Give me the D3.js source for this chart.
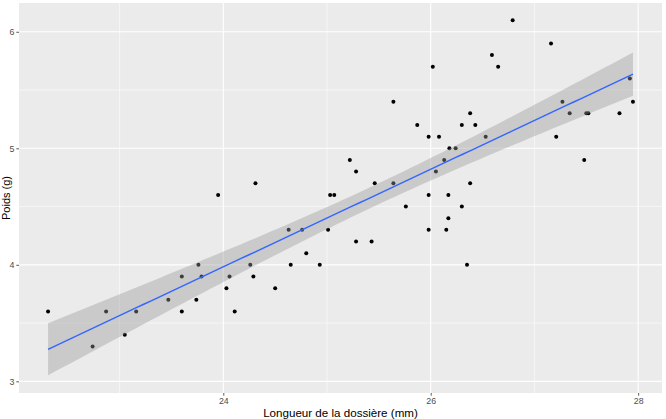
<!DOCTYPE html>
<html>
<head>
<meta charset="utf-8">
<script src="https://cdn.jsdelivr.net/npm/d3@7"></script>
<style>
  html, body { margin: 0; padding: 0; background: #ffffff; }
  svg { display: block; }
  text { font-family: "Liberation Sans", Arial, sans-serif; }
</style>
</head>
<body>
<div id="chart"></div>
<script>
// Carapace length (mm)
const longueur = [22.31,22.74,22.87,23.05,23.16,23.47,23.60,23.60,23.74,23.76,23.79,23.95,24.03,24.06,24.11,24.26,24.29,24.31,24.50,24.63,24.65,24.76,24.80,24.93,25.01,25.03,25.07,25.22,25.28,25.28,25.43,25.46,25.64,25.64,25.76,25.87,25.98,25.98,25.98,26.02,26.05,26.08,26.13,26.15,26.17,26.17,26.18,26.24,26.30,26.30,26.35,26.38,26.38,26.43,26.53,26.59,26.65,26.79,27.16,27.21,27.27,27.34,27.48,27.50,27.52,27.82,27.92,27.95];
// Weight (g)
const poids = [3.6,3.3,3.6,3.4,3.6,3.7,3.9,3.6,3.7,4.0,3.9,4.6,3.8,3.9,3.6,4.0,3.9,4.7,3.8,4.3,4.0,4.3,4.1,4.0,4.3,4.6,4.6,4.9,4.8,4.2,4.2,4.7,5.4,4.7,4.5,5.2,5.1,4.6,4.3,5.7,4.8,5.1,4.9,4.3,4.6,4.4,5.0,5.0,5.2,4.5,4.0,5.3,4.7,5.2,5.1,5.8,5.7,6.1,5.9,5.1,5.4,5.3,4.9,5.3,5.3,5.3,5.6,5.4];

const xMajor = [24, 26, 28];
const xMinor = [23, 25, 27];
const yMajor = [3, 4, 5, 6];
const yMinor = [3.5, 4.5, 5.5];
const xTitle = "Longueur de la dossière (mm)";
const yTitle = "Poids (g)";

const W = 666, H = 419;
const panel = { left: 19, right: 662, top: 3, bottom: 393 };

const x = d3.scaleLinear().domain([22.03, 28.23]).range([panel.left, panel.right]);
const y = d3.scaleLinear().domain([2.9, 6.247]).range([panel.bottom, panel.top]);

const svg = d3.select("#chart").append("svg").attr("width", W).attr("height", H);

// panel background
svg.append("rect")
  .attr("x", panel.left).attr("y", panel.top)
  .attr("width", panel.right - panel.left).attr("height", panel.bottom - panel.top)
  .attr("fill", "#EBEBEB");

const grid = svg.append("g");
grid.selectAll("line.xmin").data(xMinor).enter().append("line")
  .attr("x1", d => x(d)).attr("x2", d => x(d)).attr("y1", panel.top).attr("y2", panel.bottom)
  .attr("stroke", "#ffffff").attr("stroke-width", 0.55);
grid.selectAll("line.ymin").data(yMinor).enter().append("line")
  .attr("y1", d => y(d)).attr("y2", d => y(d)).attr("x1", panel.left).attr("x2", panel.right)
  .attr("stroke", "#ffffff").attr("stroke-width", 0.55);
grid.selectAll("line.xmaj").data(xMajor).enter().append("line")
  .attr("x1", d => x(d)).attr("x2", d => x(d)).attr("y1", panel.top).attr("y2", panel.bottom)
  .attr("stroke", "#ffffff").attr("stroke-width", 1.1);
grid.selectAll("line.ymaj").data(yMajor).enter().append("line")
  .attr("y1", d => y(d)).attr("y2", d => y(d)).attr("x1", panel.left).attr("x2", panel.right)
  .attr("stroke", "#ffffff").attr("stroke-width", 1.1);

// points
const pts = longueur.map((v, i) => ({ x: v, y: poids[i] }));
svg.append("g").selectAll("circle").data(pts).enter().append("circle")
  .attr("cx", d => x(d.x)).attr("cy", d => y(d.y)).attr("r", 2)
  .attr("fill", "#000000");

// linear regression with 95% CI (as geom_smooth(method = "lm"))
const n = pts.length;
const xbar = d3.mean(longueur), ybar = d3.mean(poids);
let sxx = 0, sxy = 0;
pts.forEach(p => { sxx += (p.x - xbar) ** 2; sxy += (p.x - xbar) * (p.y - ybar); });
const b1 = sxy / sxx, b0 = ybar - b1 * xbar;
let sse = 0;
pts.forEach(p => { sse += (p.y - (b0 + b1 * p.x)) ** 2; });
const s = Math.sqrt(sse / (n - 2));
const tq = 1.9966; // qt(0.975, 66)
const [xmin, xmax] = d3.extent(longueur);
const fit = d3.range(80).map(i => {
  const xv = xmin + (xmax - xmin) * i / 79;
  const yv = b0 + b1 * xv;
  const se = s * Math.sqrt(1 / n + (xv - xbar) ** 2 / sxx);
  return { x: xv, y: yv, lo: yv - tq * se, hi: yv + tq * se };
});

svg.append("path").datum(fit)
  .attr("d", d3.area().x(d => x(d.x)).y0(d => y(d.lo)).y1(d => y(d.hi)))
  .attr("fill", "#999999").attr("fill-opacity", 0.4);
svg.append("path").datum(fit)
  .attr("d", d3.line().x(d => x(d.x)).y(d => y(d.y)))
  .attr("fill", "none").attr("stroke", "#3366FF").attr("stroke-width", 1.4);

// axes
const xAxis = d3.axisBottom(x).tickValues(xMajor).tickSize(2.7).tickPadding(2).tickFormat(d3.format("d"));
const gx = svg.append("g").attr("transform", `translate(0,${panel.bottom})`).call(xAxis);
const yAxis = d3.axisLeft(y).tickValues(yMajor).tickSize(2.7).tickPadding(2).tickFormat(d3.format("d"));
const gy = svg.append("g").attr("transform", `translate(${panel.left},0)`).call(yAxis);
[gx, gy].forEach(g => {
  g.select(".domain").remove();
  g.selectAll(".tick line").attr("stroke", "#333333").attr("stroke-width", 0.8);
  g.selectAll(".tick text").attr("fill", "#4D4D4D").style("font-size", "8.8px")
    .style("font-family", "'Liberation Sans', Arial, sans-serif");
});

// axis titles
svg.append("text")
  .attr("x", (panel.left + panel.right) / 2).attr("y", 417)
  .attr("text-anchor", "middle").attr("fill", "#000000")
  .style("font-size", "11.6px").text(xTitle);
svg.append("text")
  .attr("transform", `translate(9.5,${(panel.top + panel.bottom) / 2}) rotate(-90)`)
  .attr("text-anchor", "middle").attr("fill", "#000000")
  .style("font-size", "11px").text(yTitle);
</script>
</body>
</html>
